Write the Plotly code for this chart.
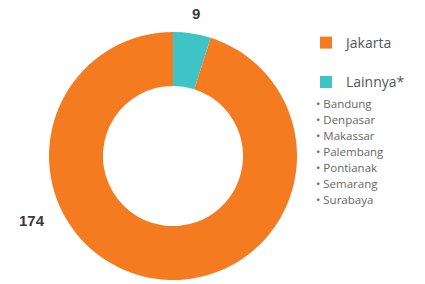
import plotly.graph_objects as go

labels = ["Lainnya*", "Jakarta"]
values = [9, 174]
colors = ["#3EC3C6", "#F47B20"]
legend_labels = ["Lainnya*", "Jakarta<br>&nbsp;"]
cities = ["Bandung", "Denpasar", "Makassar", "Palembang", "Pontianak", "Semarang", "Surabaya"]

W, H = 425, 284
cx, cy, R = 173, 156, 124

fig = go.Figure()
fig.add_trace(go.Pie(
    labels=legend_labels,
    values=values,
    hole=0.565,
    sort=False,
    direction="clockwise",
    rotation=0,
    marker=dict(colors=colors, line=dict(width=0)),
    textinfo="none",
    domain=dict(x=[(cx - R) / W, (cx + R) / W], y=[(H - cy - R) / H, (H - cy + R) / H]),
    hoverinfo="label+value",
))

# value labels
fig.add_annotation(x=196 / W, y=1 - 13 / H, xref="paper", yref="paper",
                   xanchor="center", yanchor="middle",
                   text=f"<b>{values[0]}</b>", showarrow=False,
                   font=dict(family="Liberation Sans", size=15, color="#3a3a3a"))
fig.add_annotation(x=32 / W, y=1 - 220 / H, xref="paper", yref="paper",
                   xanchor="center", yanchor="middle",
                   text=f"<b>{values[1]}</b>", showarrow=False,
                   font=dict(family="Liberation Sans", size=15, color="#3a3a3a"))

# bullet list
bullet_text = "<br>".join(f"<span style='font-size:11.5px'>• {c}</span>" for c in cities)
fig.add_annotation(x=314 / W, y=1 - 94 / H, xref="paper", yref="paper",
                   xanchor="left", yanchor="top", align="left",
                   text=bullet_text, showarrow=False,
                   font=dict(family="Open Sans", size=12.3, color="#666666"))

fig.update_layout(
    width=W, height=H,
    margin=dict(l=0, r=0, t=0, b=0),
    paper_bgcolor="white",
    plot_bgcolor="white",
    showlegend=True,
    legend=dict(x=306 / W, y=1 - 27 / H, xanchor="left", yanchor="top",
                traceorder="reversed", valign="top",
                font=dict(family="Open Sans", size=14, color="#555555"),
                bgcolor="rgba(0,0,0,0)"),
)

fig.write_html("out.html", config={"displayModeBar": False},
               post_script="document.body.style.margin='0';")
